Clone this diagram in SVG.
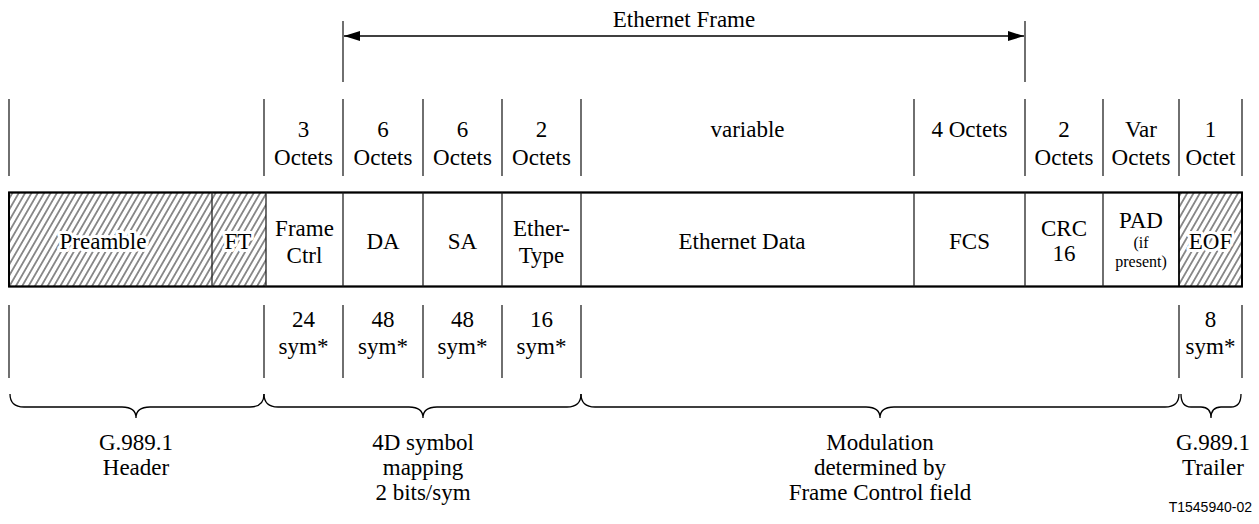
<svg xmlns="http://www.w3.org/2000/svg" width="1259" height="524" viewBox="0 0 1259 524">
<defs>
<pattern id="hatch" patternUnits="userSpaceOnUse" width="5.5" height="10" patternTransform="rotate(30)">
<line x1="2.75" y1="0" x2="2.75" y2="10" stroke="#000" stroke-width="0.9"/>
</pattern>
<marker id="arr" viewBox="0 0 16 10" refX="16" refY="5" markerWidth="16" markerHeight="10" markerUnits="userSpaceOnUse" orient="auto-start-reverse">
<path d="M0,0 L16,5 L0,10 Z" fill="#000"/>
</marker>
</defs>
<style>
text{font-size:23px;fill:#000;text-anchor:middle}
.small{font-size:16px}
.ko{stroke:#fff;stroke-width:6;stroke-linejoin:round;paint-order:stroke}
.sep{stroke:#222;stroke-width:1.3;fill:none}
.box{stroke:#000;stroke-width:1.8;fill:#fff}
.brace{stroke:#000;stroke-width:1.3;fill:none}
.code{font-size:14px;text-anchor:end}
</style>
<rect width="1259" height="524" fill="#fff"/>

<g id="connectors">
<line class="sep" x1="343" y1="21" x2="343" y2="82"/>
<line class="sep" x1="1025" y1="21" x2="1025" y2="82"/>
<line x1="344" y1="36" x2="1024" y2="36" stroke="#000" stroke-width="1.3" marker-start="url(#arr)" marker-end="url(#arr)"/>
</g>

<g font-family="'Liberation Serif', 'Times New Roman', 'DejaVu Serif', serif">
<g id="ethernet-frame-label"><text x="684" y="27">Ethernet Frame</text></g>

<g id="octet-row">
<g class="sep">
<line x1="9" y1="99" x2="9" y2="176"/>
<line x1="264" y1="99" x2="264" y2="176"/>
<line x1="343" y1="99" x2="343" y2="176"/>
<line x1="423" y1="99" x2="423" y2="176"/>
<line x1="502" y1="99" x2="502" y2="176"/>
<line x1="581" y1="99" x2="581" y2="176"/>
<line x1="914" y1="99" x2="914" y2="176"/>
<line x1="1025" y1="99" x2="1025" y2="176"/>
<line x1="1103" y1="99" x2="1103" y2="176"/>
<line x1="1179" y1="99" x2="1179" y2="176"/>
<line x1="1242" y1="99" x2="1242" y2="176"/>
</g>
<text x="303.5" y="137">3</text><text x="303.5" y="165">Octets</text>
<text x="383" y="137">6</text><text x="383" y="165">Octets</text>
<text x="462.5" y="137">6</text><text x="462.5" y="165">Octets</text>
<text x="541.5" y="137">2</text><text x="541.5" y="165">Octets</text>
<text x="747.5" y="137">variable</text>
<text x="969.5" y="137">4 Octets</text>
<text x="1064" y="137">2</text><text x="1064" y="165">Octets</text>
<text x="1141" y="137">Var</text><text x="1141" y="165">Octets</text>
<text x="1210.5" y="137">1</text><text x="1210.5" y="165">Octet</text>
</g>

<g id="frame">
<rect class="box" x="9" y="192.5" width="1233" height="94"/>
<rect x="9" y="192.5" width="257" height="94" fill="url(#hatch)"/>
<rect x="1179" y="192.5" width="63" height="94" fill="url(#hatch)"/>
<rect x="9" y="192.5" width="1233" height="94" fill="none" stroke="#000" stroke-width="1.8"/>
</g>
<g id="preamble"><text class="ko" x="103" y="249">Preamble</text></g>
<g id="ft"><line class="sep" x1="212" y1="192.5" x2="212" y2="286.5"/><text class="ko" x="238" y="249">FT</text></g>
<g id="frame-ctrl"><line class="sep" x1="266" y1="192.5" x2="266" y2="286.5"/><text x="304.5" y="236">Frame</text><text x="304.5" y="263">Ctrl</text></g>
<g id="da"><line class="sep" x1="343" y1="192.5" x2="343" y2="286.5"/><text x="383" y="249">DA</text></g>
<g id="sa"><line class="sep" x1="423" y1="192.5" x2="423" y2="286.5"/><text x="462.5" y="249">SA</text></g>
<g id="ethertype"><line class="sep" x1="502" y1="192.5" x2="502" y2="286.5"/><text x="541.5" y="236">Ether-</text><text x="541.5" y="263">Type</text></g>
<g id="ethernet-data"><line class="sep" x1="581" y1="192.5" x2="581" y2="286.5"/><text x="742" y="249">Ethernet Data</text></g>
<g id="fcs"><line class="sep" x1="914" y1="192.5" x2="914" y2="286.5"/><text x="969.5" y="249">FCS</text></g>
<g id="crc16"><line class="sep" x1="1025" y1="192.5" x2="1025" y2="286.5"/><text x="1064" y="236">CRC</text><text x="1064" y="261">16</text></g>
<g id="pad"><line class="sep" x1="1103" y1="192.5" x2="1103" y2="286.5"/><text x="1141" y="228">PAD</text><text class="small" x="1141" y="248">(if</text><text class="small" x="1141" y="267">present)</text></g>
<g id="eof"><line x1="1179" y1="192.5" x2="1179" y2="286.5" stroke="#000" stroke-width="1.8"/><text class="ko" x="1210.5" y="249">EOF</text></g>

<g id="symbol-row">
<g class="sep">
<line x1="9" y1="305" x2="9" y2="378"/>
<line x1="264" y1="305" x2="264" y2="378"/>
<line x1="343" y1="305" x2="343" y2="378"/>
<line x1="423" y1="305" x2="423" y2="378"/>
<line x1="502" y1="305" x2="502" y2="378"/>
<line x1="581" y1="305" x2="581" y2="378"/>
<line x1="1179" y1="305" x2="1179" y2="378"/>
<line x1="1242" y1="305" x2="1242" y2="378"/>
</g>
<text x="303.5" y="327">24</text><text x="303.5" y="354">sym*</text>
<text x="383" y="327">48</text><text x="383" y="354">sym*</text>
<text x="462.5" y="327">48</text><text x="462.5" y="354">sym*</text>
<text x="541.5" y="327">16</text><text x="541.5" y="354">sym*</text>
<text x="1210.5" y="327">8</text><text x="1210.5" y="354">sym*</text>
</g>

<g id="braces" class="brace">
<path d="M10,394 Q10,407 24,407 L122,407 Q136,407 136,418 Q136,407 150,407 L250,407 Q264,407 264,394"/>
<path d="M264,394 Q264,407 278,407 L409,407 Q423,407 423,418 Q423,407 437,407 L567,407 Q581,407 581,394"/>
<path d="M581,394 Q581,407 595,407 L866,407 Q880,407 880,418 Q880,407 894,407 L1165,407 Q1179,407 1179,394"/>
<path d="M1181,394 Q1181,407 1191,407 L1201,407 Q1211,407 1211,418 Q1211,407 1221,407 L1231,407 Q1241,407 1241,394"/>
</g>

<g id="header-label"><text x="136" y="450">G.989.1</text><text x="136" y="475">Header</text></g>
<g id="mapping-label"><text x="423" y="450">4D symbol</text><text x="423" y="475">mapping</text><text x="423" y="500">2 bits/sym</text></g>
<g id="modulation-label"><text x="880" y="450">Modulation</text><text x="880" y="475">determined by</text><text x="880" y="500">Frame Control field</text></g>
<g id="trailer-label"><text x="1213" y="450">G.989.1</text><text x="1213" y="475">Trailer</text></g>
</g>
<text class="code" font-family="'Liberation Sans', Arial, sans-serif" x="1252" y="512">T1545940-02</text>
</svg>
